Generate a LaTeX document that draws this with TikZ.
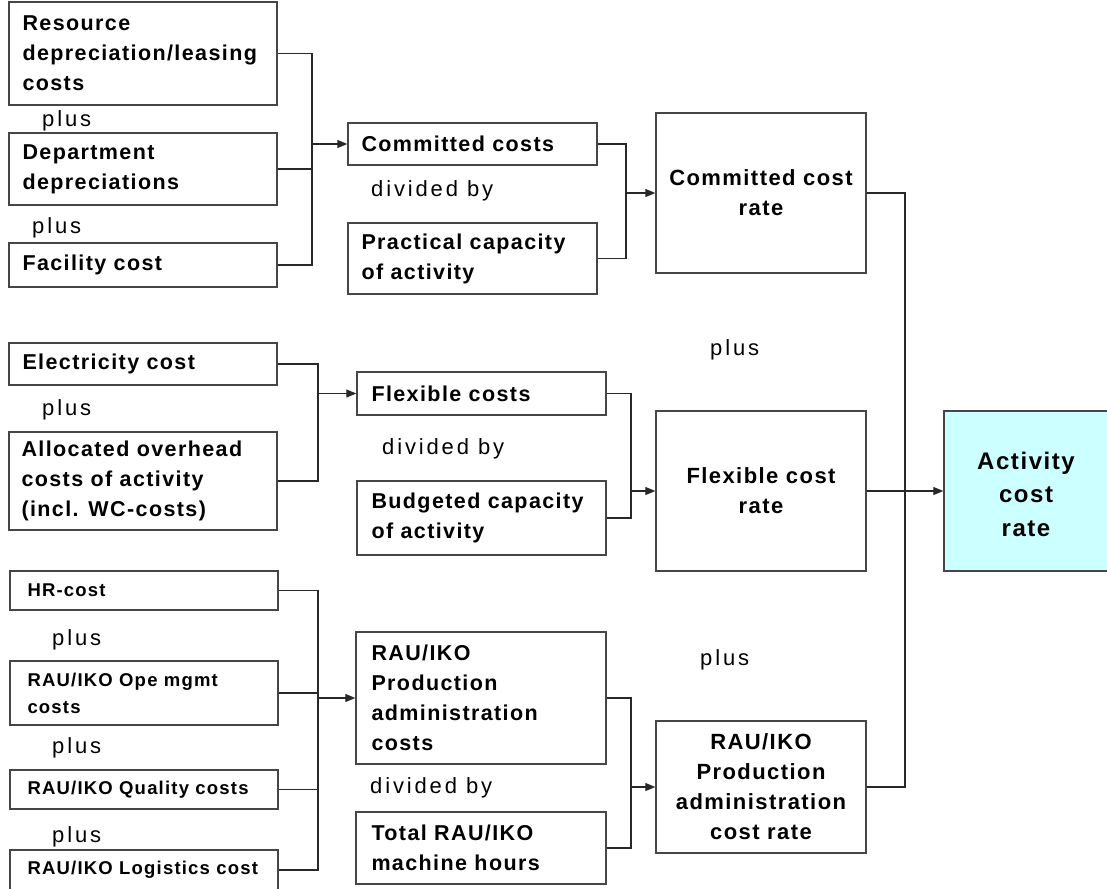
\documentclass[tikz,border=0pt]{standalone}
\usepackage{fontspec}
\setmainfont{Liberation Sans}
\newfontfamily\boxfont{Liberation Sans}[LetterSpace=6.5]
\newfontfamily\opfont{Liberation Sans}[LetterSpace=13]
\usetikzlibrary{arrows.meta}
\definecolor{boxline}{RGB}{70,70,70}
\definecolor{wireline}{RGB}{40,40,40}
\definecolor{resultfill}{RGB}{204,255,255}
\begin{document}
\begin{tikzpicture}[x=1pt,y=-1pt,
  box/.style={draw=boxline, line width=1.4pt, inner sep=0pt},
  btext/.style={anchor=west, inner sep=0pt, align=left,
    font=\boxfont\bfseries\fontsize{21.5}{30}\selectfont},
  stext/.style={anchor=west, inner sep=0pt, align=left,
    font=\boxfont\bfseries\fontsize{18.5}{27}\selectfont},
  rtext/.style={align=center, font=\boxfont\bfseries\fontsize{22}{30}\selectfont},
  op/.style={anchor=base west, inner sep=0pt, font=\opfont\fontsize{22}{26}\selectfont},
  wire/.style={draw=wireline, line width=1.2pt},
  arr/.style={wire, -{Triangle[length=10pt,width=8pt]}}
]
\useasboundingbox (0,0) rectangle (1107,888);
\fill[white] (0,0) rectangle (1107,888);

% ---- committed cost group ----
\node[box, minimum width=268, minimum height=103] (A1) at (143,53.5) {};
\node[btext] (A1t) at ([xshift=14]A1.west) {Resource\\depreciation/leasing\\costs};
\node[box, minimum width=268, minimum height=72] (A2) at (143,169) {};
\node[btext] (A2t) at ([xshift=14]A2.west) {Department\\depreciations};
\node[box, minimum width=268, minimum height=44] (A3) at (143,265) {};
\node[btext] (A3t) at ([xshift=14]A3.west) {Facility cost};
\node[op] (p1) at (42,126) {plus};
\node[op] (p2) at (32,233) {plus};

\node[box, minimum width=249, minimum height=42] (B1) at (472.5,144) {};
\node[btext] (B1t) at ([xshift=14]B1.west) {Committed costs};
\node[box, minimum width=249, minimum height=71] (B2) at (472.5,258.5) {};
\node[btext] (B2t) at ([xshift=14]B2.west) {Practical capacity\\of activity};
\node[op] (d1) at (371,196) {divided by};

\node[box, minimum width=210, minimum height=160] (C1) at (761,193) {};
\node[rtext] (C1t) at (761,193) {Committed cost\\rate};

% ---- flexible cost group ----
\node[box, minimum width=268, minimum height=42] (A4) at (143,364) {};
\node[btext] (A4t) at ([xshift=14]A4.west) {Electricity cost};
\node[box, minimum width=268, minimum height=98] (A5) at (143,481) {};
\node[btext] (A5t) at ([xshift=13]A5.west) {Allocated overhead\\costs of activity\\(incl. WC-costs)};
\node[op] (p3) at (42,415) {plus};

\node[box, minimum width=249, minimum height=43] (B3) at (481.5,393.5) {};
\node[btext] (B3t) at ([xshift=15]B3.west) {Flexible costs};
\node[box, minimum width=249, minimum height=74] (B4) at (481.5,518) {};
\node[btext] (B4t) at ([xshift=15]B4.west) {Budgeted capacity\\of activity};
\node[op] (d2) at (382,454) {divided by};

\node[box, minimum width=210, minimum height=160] (C2) at (761,491) {};
\node[rtext] (C2t) at (761,491) {Flexible cost\\rate};

\node[op] (p7) at (710,355) {plus};

% ---- production administration group ----
\node[box, minimum width=268, minimum height=39] (A6) at (144,590.5) {};
\node[stext] (A6t) at ([xshift=18]A6.west) {HR-cost};
\node[box, minimum width=268, minimum height=64] (A7) at (144,693) {};
\node[stext] (A7t) at ([xshift=18]A7.west) {RAU/IKO Ope mgmt\\costs};
\node[box, minimum width=268, minimum height=39] (A8) at (144,789.5) {};
\node[stext] (A8t) at ([xshift=18]A8.west) {RAU/IKO Quality costs};
\node[box, minimum width=268, minimum height=40] (A9) at (144,870) {};
\node[stext] (A9t) at ([xshift=18]A9.west) {RAU/IKO Logistics cost};
\node[op] (p4) at (52,645) {plus};
\node[op] (p5) at (52,753) {plus};
\node[op] (p6) at (52,842) {plus};

\node[box, minimum width=250, minimum height=132] (B5) at (481,698) {};
\node[btext] (B5t) at ([xshift=16]B5.west) {RAU/IKO\\Production\\administration\\costs};
\node[box, minimum width=250, minimum height=72] (B6) at (481,848) {};
\node[btext] (B6t) at ([xshift=16]B6.west) {Total RAU/IKO\\machine hours};
\node[op] (d3) at (370,793) {divided by};

\node[box, minimum width=210, minimum height=132] (C3) at (761,787) {};
\node[rtext] (C3t) at (761,787) {RAU/IKO\\Production\\administration\\cost rate};

\node[op] (p8) at (700,665) {plus};

% ---- result ----
\node[box, fill=resultfill, minimum width=166, minimum height=160] (D) at (1027,491) {};
\node[rtext, font=\boxfont\bfseries\fontsize{24}{33.5}\selectfont] (Dt) at (1026,494) {Activity\\cost\\rate};

% ---- junction points of the collecting lines ----
\coordinate (j1) at (312,144);
\coordinate (j2) at (318,393.5);
\coordinate (j3) at (318,698);
\coordinate (k1) at (626,193);
\coordinate (k2) at (631,491);
\coordinate (k3) at (631,787);
\coordinate (r1) at (905,491);

% ---- connectors ----
\draw[wire] (A1.east) -| (j1);
\draw[wire] (A2.east) -| (j1);
\draw[wire] (A3.east) -| (j1);
\draw[arr] (j1) -- (B1.west);

\draw[wire] (B1.east) -| (k1);
\draw[wire] (B2.east) -| (k1);
\draw[arr] (k1) -- (C1.west);

\draw[wire] (A4.east) -| (j2);
\draw[wire] (A5.east) -| (j2);
\draw[arr] (j2) -- (B3.west);

\draw[wire] (B3.east) -| (k2);
\draw[wire] (B4.east) -| (k2);
\draw[arr] (k2) -- (C2.west);

\draw[wire] (A6.east) -| (j3);
\draw[wire] (A7.east) -| (j3);
\draw[wire] (A8.east) -| (j3);
\draw[wire] (A9.east) -| (j3);
\draw[arr] (j3) -- (B5.west);

\draw[wire] (B5.east) -| (k3);
\draw[wire] (B6.east) -| (k3);
\draw[arr] (k3) -- (C3.west);

\draw[wire] (C1.east) -| (r1);
\draw[wire] (C3.east) -| (r1);
\draw[arr] (C2.east) -- (D.west);
\end{tikzpicture}
\end{document}
